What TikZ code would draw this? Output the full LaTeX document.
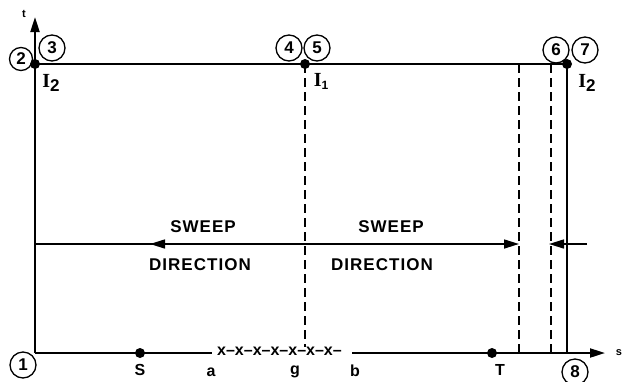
\documentclass[tikz,border=0pt]{standalone}
\usepackage{fontspec}
\setmainfont{Liberation Sans}
\newfontfamily\lbl[LetterSpace=6]{Liberation Sans}
\newfontfamily\serif{Liberation Serif}
\usetikzlibrary{arrows.meta}
\begin{document}
\begin{tikzpicture}[x=1pt,y=-1pt,
  axis/.style={line width=2pt},
  dashline/.style={line width=1.4pt, dash pattern=on 9pt off 5pt},
  sweepline/.style={line width=1.6pt},
  num/.style={circle, draw, line width=1.3pt, minimum size=26pt, inner sep=0pt, font=\fontsize{17}{17}\selectfont\bfseries},
  dot/.style={circle, fill, inner sep=0pt, minimum size=10pt},
  lab/.style={font=\fontsize{16}{16}\selectfont\bfseries, inner sep=0pt},
  ilab/.style={font=\fontsize{17}{17}\selectfont\bfseries, inner sep=0pt},
  sweeplab/.style={font=\fontsize{17}{17}\selectfont\bfseries\lbl, inner sep=0pt},
  tip/.style={-{Triangle[length=15pt,width=9pt]}}
]
\useasboundingbox (0,0) rectangle (623,381);
% key points
\coordinate (O) at (35,353);
\coordinate (ttop) at (35,17);
\coordinate (aL) at (212,353);
\coordinate (bR) at (352,353);
\coordinate (send) at (605,353);
\node[dot] (p23) at (35,64) {};
\node[dot] (p45) at (305,64) {};
\node[dot] (p67) at (567,64) {};
\coordinate (p8) at (567,353);
\coordinate (d5) at (305,347);
\coordinate (dAt) at (519,64);
\coordinate (dAb) at (519,353);
\coordinate (dBt) at (551,64);
\coordinate (dBb) at (551,353);
\node[dot] (S) at (140,353) {};
\node[dot] (T) at (492,353) {};
% axes and frame
\draw[axis,tip] (O) -- (ttop);
\draw[axis] (O) -- (aL);
\draw[axis,tip] (bR) -- (send);
\draw[axis] (p23.center) -- (p67.center) -- (p8);
% dashed lines
\draw[dashline] (p45.center) -- (d5);
\draw[dashline] (dAt) -- (dAb);
\draw[dashline] (dBt) -- (dBb);
% sweep arrows
\coordinate (sL) at (35,244);
\coordinate (sR) at (519,244);
\coordinate (mA) at (168,244);
\coordinate (mB) at (150,244);
\coordinate (rA) at (587,244);
\coordinate (rB) at (549,244);
\draw[sweepline,tip] (sL) -- (sR);
\draw[sweepline,tip] (mA) -- (mB);
\draw[sweepline,tip] (rA) -- (rB);
\node[sweeplab] (sw1) at (203,227) {SWEEP};
\node[sweeplab] (di1) at (200,265) {DIRECTION};
\node[sweeplab] (sw2) at (391,227) {SWEEP};
\node[sweeplab] (di2) at (382,265) {DIRECTION};
% x-x-x text
\node[lab, anchor=west] (xs) at (217,351) {x–x–x–x–x–x–x–};
% numbered circles
\node[num] (n1) at (23,365) {1};
\node[num, minimum size=23pt] (n2) at (21,59) {2};
\node[num] (n3) at (52,48) {3};
\node[num] (n4) at (289,48) {4};
\node[num] (n5) at (317,48) {5};
\node[num] (n6) at (556,50) {6};
\node[num] (n7) at (585,50) {7};
\node[num] (n8) at (575,372) {8};
% labels
\node[lab] (lS) at (140,370) {S};
\node[lab] (la) at (211,372) {a};
\node[lab] (lg) at (295,372) {g};
\node[lab] (lb) at (355,371) {b};
\node[lab] (lT) at (500,370) {T};
\node[ilab] (I2a) at (51,83) {{\serif\fontsize{20}{20}\selectfont I}\raisebox{-4pt}{2}};
\node[ilab] (I1) at (321,81) {{\serif\fontsize{20}{20}\selectfont I}\raisebox{-3pt}{\fontsize{12}{12}\selectfont 1}};
\node[ilab] (I2b) at (587,83) {{\serif\fontsize{20}{20}\selectfont I}\raisebox{-4pt}{2}};
\node[font=\fontsize{11}{11}\selectfont\bfseries] (lt) at (24,14) {t};
\node[font=\fontsize{11}{11}\selectfont\bfseries] (ls) at (619,353) {s};
\end{tikzpicture}
\end{document}
